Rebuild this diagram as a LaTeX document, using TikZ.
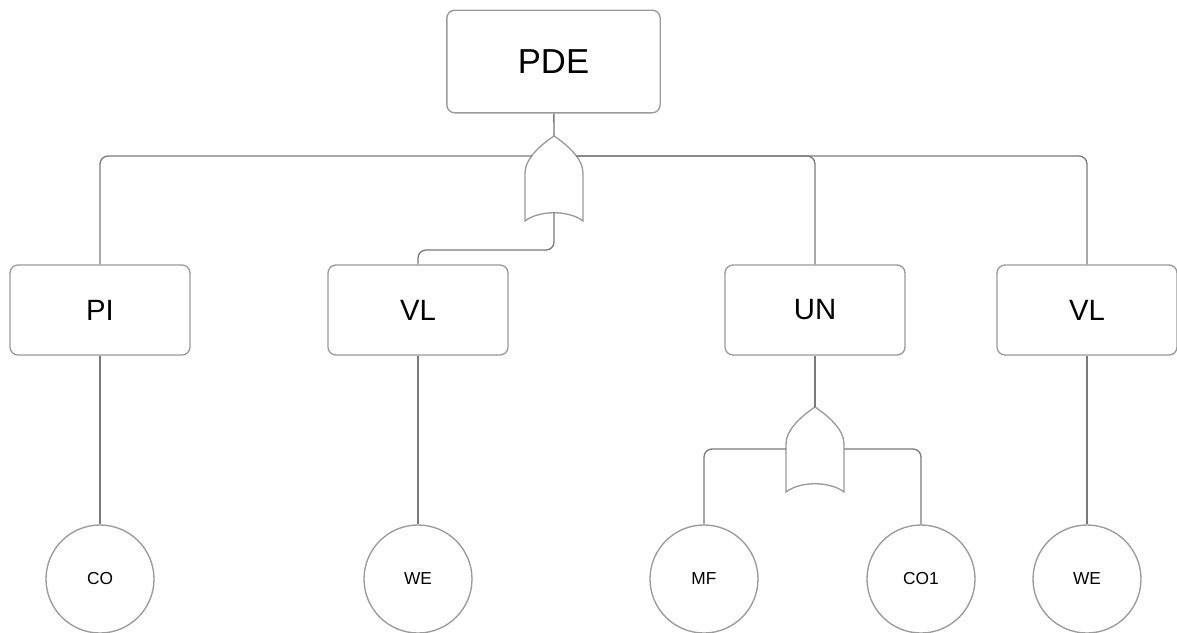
\documentclass[tikz,border=0pt]{standalone}
\usepackage{fontspec}
\setmainfont{Liberation Sans}
\usetikzlibrary{positioning}

\definecolor{linegray}{HTML}{7A7A7A}
\definecolor{boxgray}{HTML}{9A9A9A}

\tikzset{
  event/.style={draw=boxgray, line width=1pt, rounded corners=6pt, fill=white,
    minimum width=135pt, minimum height=67.5pt, inner sep=0pt,
    font=\fontsize{22}{26}\selectfont},
  topevent/.style={event, minimum width=160pt, minimum height=77pt,
    font=\fontsize{26}{30}\selectfont},
  basic/.style={circle, draw=boxgray, line width=1pt, fill=white,
    minimum size=81pt, inner sep=0pt, font=\fontsize{13}{15}\selectfont},
  wire/.style={draw=linegray, line width=1pt, rounded corners=6pt},
  pics/orgate/.style={code={
    \draw[boxgray, line width=1pt, fill=white]
      (0,0) .. controls (12,8) and (29,22) .. (29,37) -- (29,85)
      .. controls (15,74) and (-15,74) .. (-29,85) -- (-29,37)
      .. controls (-29,22) and (-12,8) .. (0,0) -- cycle;
    \coordinate (-top) at (0,0);
    \coordinate (-bot) at (0,76);
    \coordinate (-nw) at (-22,20);
    \coordinate (-ne) at (22,20);
    \coordinate (-w) at (-29,42);
    \coordinate (-e) at (29,42);
  }}
}

\begin{document}
\begin{tikzpicture}[x=0.75pt, y=-0.75pt]
\useasboundingbox (0,0) rectangle (1177,632);

% Top event and gates
\node[topevent] (pde) at (553.5,61.5) {PDE};
\pic (g1) at (554,136) {orgate};
\pic (g2) at (815,407) {orgate};

% Intermediate events
\node[event] (pi) at (100,310) {PI};
\node[event] (vl1) at (418,310) {VL};
\node[event] (un) at (815,310) {UN};
\node[event] (vl2) at (1087,310) {VL};

% Basic events
\node[basic] (co) at (100,579) {CO};
\node[basic] (we1) at (418,579) {WE};
\node[basic] (mf) at (704,579) {MF};
\node[basic] (co1) at (921,579) {CO1};
\node[basic] (we2) at (1087,579) {WE};

% Connections
\draw[wire] (pde) -- (g1-top);
\draw[wire] (g1-nw) -| (pi);
\draw[wire] (g1-bot) -- ++(0,38) -| (vl1);
\draw[wire] (g1-ne) -| (un);
\draw[wire] (g1-ne) -| (vl2);
\draw[wire] (un) -- (g2-top);
\draw[wire] (g2-w) -| (mf);
\draw[wire] (g2-e) -| (co1);
\draw[wire] (pi) -- (co);
\draw[wire] (vl1) -- (we1);
\draw[wire] (vl2) -- (we2);
\end{tikzpicture}
\end{document}
